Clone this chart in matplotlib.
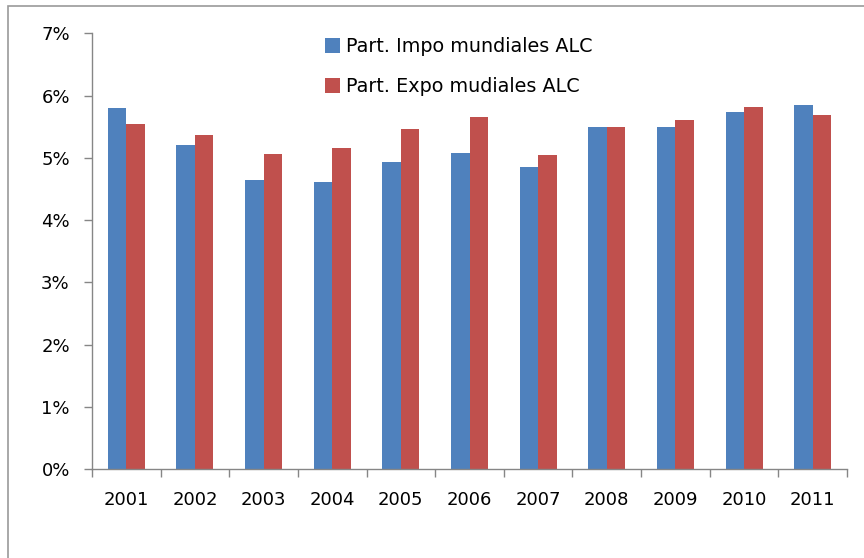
import numpy as np
import matplotlib.pyplot as plt
from matplotlib.patches import Rectangle
from matplotlib.ticker import FixedLocator, PercentFormatter

plt.rcParams['font.family'] = ['DejaVu Sans']

years = ['2001', '2002', '2003', '2004', '2005', '2006',
         '2007', '2008', '2009', '2010', '2011']
impo = [5.80, 5.20, 4.64, 4.61, 4.94, 5.07, 4.85, 5.50, 5.50, 5.74, 5.85]
expo = [5.55, 5.36, 5.06, 5.15, 5.47, 5.66, 5.04, 5.50, 5.61, 5.82, 5.69]
labels = ['Part. Impo mundiales ALC', 'Part. Expo mudiales ALC']

blue = '#4F81BD'
red = '#C0504D'
gray = '#868686'

fig = plt.figure(figsize=(8.64, 5.58), dpi=100)

# chart area border (cut off at right and bottom like the reference)
fig.patches.append(Rectangle((8 / 864, -0.05), 1.0, 1 - 6 / 558 + 0.05,
                             transform=fig.transFigure, fill=False,
                             edgecolor='#9a9a9a', linewidth=1.2))

ax = fig.add_axes([92 / 864, 1 - 469 / 558, (847 - 92) / 864, (469 - 33.3) / 558])

x = np.arange(len(years))
w = 0.27
ax.bar(x - w / 2, impo, w, color=blue, label=labels[0])
ax.bar(x + w / 2, expo, w, color=red, label=labels[1])

ax.set_xlim(-0.5, len(years) - 0.5)
ax.set_ylim(0, 7)
ax.yaxis.set_major_locator(FixedLocator(range(0, 8)))
ax.yaxis.set_major_formatter(PercentFormatter(decimals=0))

ax.set_xticks(x)
ax.set_xticklabels(years)
ax.xaxis.set_minor_locator(FixedLocator(np.arange(-0.5, len(years), 1)))
ax.tick_params(axis='x', which='major', length=0, pad=16, labelsize=13)
ax.tick_params(axis='x', which='minor', length=6, color=gray, width=1)
ax.tick_params(axis='y', length=6, color=gray, width=1, labelsize=13, pad=10)

for s in ['top', 'right']:
    ax.spines[s].set_visible(False)
for s in ['left', 'bottom']:
    ax.spines[s].set_color(gray)
    ax.spines[s].set_linewidth(1)

ax.legend(loc='upper left', bbox_to_anchor=(325 / 864, 1 - 37 / 558),
          bbox_transform=fig.transFigure, frameon=False, fontsize=13.8,
          handlelength=0.8, handleheight=0.8, handletextpad=0.3,
          labelspacing=1.1, borderaxespad=0, borderpad=0)

fig.savefig('out.png', dpi=100)
